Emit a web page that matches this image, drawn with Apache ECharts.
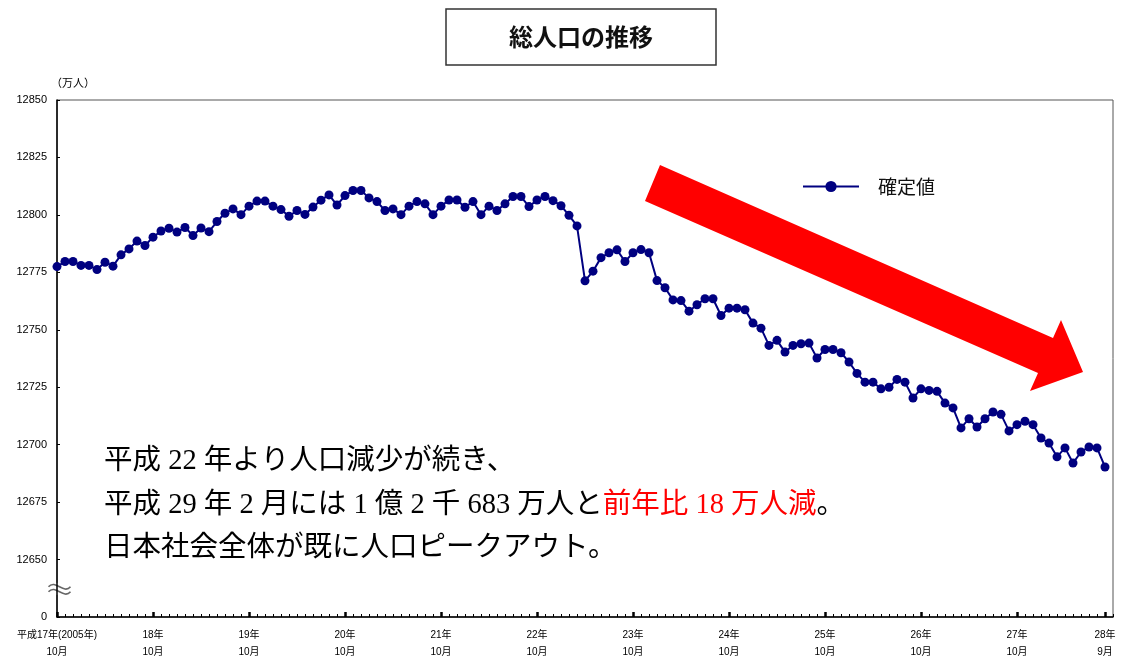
<!DOCTYPE html>
<html>
<head>
<meta charset="utf-8">
<script src="https://cdn.jsdelivr.net/npm/echarts@6/dist/echarts.min.js"></script>
<style>
  html, body { margin: 0; padding: 0; background: #fff; }
  #chart { width: 1121px; height: 661px; }
</style>
</head>
<body>
<div id="chart"></div>
<script>
// 総人口（確定値）月次、平成17年10月〜平成28年9月（万人）
const population = [
  12777.5, 12779.7, 12779.7, 12778.0, 12778.0, 12776.2, 12779.4, 12777.7, 12782.6, 12785.2,
  12788.6, 12786.7, 12790.3, 12793.0, 12794.2, 12792.5, 12794.5, 12791.0, 12794.3, 12792.7,
  12797.1, 12800.7, 12802.6, 12800.1, 12803.8, 12806.0, 12806.0, 12803.8, 12802.3, 12799.4,
  12801.9, 12800.2, 12803.4, 12806.4, 12808.7, 12804.3, 12808.4, 12810.6, 12810.6, 12807.4,
  12805.8, 12801.9, 12802.6, 12800.1, 12803.8, 12805.8, 12804.8, 12800.1, 12803.8, 12806.5,
  12806.5, 12803.3, 12805.8, 12800.1, 12803.8, 12801.9, 12804.8, 12808.0, 12808.0, 12803.6,
  12806.5, 12808.0, 12806.2, 12804.0, 12799.8, 12795.2, 12771.3, 12775.5, 12781.4, 12783.5,
  12784.8, 12779.7, 12783.5, 12784.9, 12783.5, 12771.4, 12768.3, 12763.0, 12762.7, 12758.1,
  12760.9, 12763.5, 12763.5, 12756.2, 12759.4, 12759.4, 12758.7, 12752.9, 12750.7, 12743.2,
  12745.4, 12740.3, 12743.2, 12743.9, 12744.2, 12737.7, 12741.4, 12741.4, 12740.0, 12736.0,
  12731.0, 12727.2, 12727.2, 12724.3, 12725.0, 12728.4, 12727.2, 12720.3, 12724.3, 12723.6,
  12723.2, 12718.1, 12716.0, 12707.3, 12711.3, 12707.7, 12711.3, 12714.2, 12713.2, 12706.0,
  12708.7, 12710.2, 12708.7, 12702.9, 12700.7, 12694.7, 12698.6, 12692.0, 12696.8, 12699.0,
  12698.6, 12690.3
];

// 横軸の目盛（月の通し番号）とラベル
const tickMonths = [0, 12, 24, 36, 48, 60, 72, 84, 96, 108, 120, 131];
const tickLabels = [
  '平成17年(2005年)\n10月', '18年\n10月', '19年\n10月', '20年\n10月', '21年\n10月',
  '22年\n10月', '23年\n10月', '24年\n10月', '25年\n10月', '26年\n10月',
  '27年\n10月', '28年\n9月'
];

// 縦軸（下端は省略記号付きの「0」）
const yMin = 12625, yMax = 12850, yStep = 25;
const seriesName = '確定値';
const titleText = '総人口の推移';
const unitText = '（万人）';
const noteLines = [
  '平成 22 年より人口減少が続き、',
  ['平成 29 年 2 月には 1 億 2 千 683 万人と', '前年比 18 万人減', '。'],
  '日本社会全体が既に人口ピークアウト。'
];

const monthCount = 132;
const allMonths = [];
for (let m = 0; m <= monthCount; m++) allMonths.push(m);
const seriesData = population.map((v, i) => [i, v]);

const chart = echarts.init(document.getElementById('chart'));
const baseFont = "'Liberation Sans', Arial, 'Noto Sans CJK JP', sans-serif";
const noteFont = "'Liberation Serif', 'Noto Sans CJK JP', serif";
const noteSize = 28.5;

// 省略記号の波線（S字の3次ベジェ曲線）
function wave(y) {
  return {
    type: 'bezierCurve',
    shape: { x1: 2, y1: y, cpx1: 9, cpy1: y - 8, cpx2: 17, cpy2: y + 8, x2: 24, y2: y },
    style: { fill: 'none', stroke: '#666', lineWidth: 1.6 }
  };
}

chart.setOption({
  animation: false,
  backgroundColor: '#fff',
  title: {
    text: titleText,
    left: 446, top: 9,
    padding: [16, 63],
    borderColor: '#333', borderWidth: 1.5,
    textStyle: { fontFamily: "'Noto Sans CJK JP', sans-serif", fontSize: 24, fontWeight: 'bold', color: '#111' }
  },
  legend: {
    left: 802, top: 177, padding: 0,
    itemWidth: 56, itemHeight: 14,
    data: [seriesName],
    textStyle: { fontFamily: "'Noto Sans CJK JP', sans-serif", fontSize: 19, color: '#111', padding: [0, 0, 0, 14] }
  },
  grid: {
    left: 57, right: 8, top: 100, bottom: 42,
    show: true, borderColor: '#555', borderWidth: 1, backgroundColor: 'transparent'
  },
  xAxis: [
    {
      type: 'value', min: 0, max: monthCount, interval: 1,
      axisLine: { show: true, onZero: false, lineStyle: { color: '#000', width: 1.5 } },
      axisTick: { show: true, inside: true, length: 3, customValues: allMonths, lineStyle: { color: '#000', width: 1 } },
      axisLabel: {
        customValues: tickMonths,
        formatter: v => tickLabels[tickMonths.indexOf(v)] || '',
        fontFamily: baseFont, fontSize: 10, color: '#000', lineHeight: 17, margin: 10
      },
      splitLine: { show: false }
    },
    {
      type: 'value', min: 0, max: monthCount,
      position: 'bottom',
      axisLine: { show: false },
      axisTick: { show: true, inside: true, length: 5, customValues: tickMonths, lineStyle: { color: '#000', width: 2.5 } },
      axisLabel: { show: false },
      splitLine: { show: false }
    }
  ],
  yAxis: {
    type: 'value', min: yMin, max: yMax, interval: yStep,
    name: unitText,
    nameLocation: 'end', nameGap: 12,
    nameTextStyle: { fontFamily: "'Noto Sans CJK JP', sans-serif", fontSize: 11, color: '#000', align: 'left', padding: [0, 0, 0, -6] },
    axisLine: { show: true, lineStyle: { color: '#000', width: 1.5 } },
    axisTick: { show: true, inside: true, length: 3, lineStyle: { color: '#000' } },
    axisLabel: {
      formatter: v => (v === yMin ? '0' : String(v)),
      fontFamily: baseFont, fontSize: 11, color: '#000', margin: 10
    },
    splitLine: { show: false }
  },
  series: [{
    name: seriesName,
    type: 'line',
    xAxisIndex: 0,
    data: seriesData,
    symbol: 'circle', symbolSize: 9,
    lineStyle: { color: '#000080', width: 2 },
    itemStyle: { color: '#000080' },
    z: 3
  }],
  graphic: [
    {
      type: 'group', left: 46, top: 582, z: 10,
      children: [
        { type: 'rect', shape: { x: 2, y: 2, width: 22, height: 12 }, style: { fill: '#fff' } },
        wave(6),
        wave(11)
      ]
    },
    // 減少傾向を示す赤い矢印
    {
      type: 'polygon', z: 5,
      shape: { points: [[660, 165], [1053, 338], [1061, 320], [1083, 372], [1030, 391], [1038, 373], [645, 201]] },
      style: { fill: '#ff0000' }
    },
    // 注記
    {
      type: 'text', left: 104, top: 447, z: 20,
      style: { text: noteLines[0], font: noteSize + "px " + noteFont, fill: '#000' }
    },
    {
      type: 'text', left: 104, top: 491, z: 20,
      style: {
        text: '{a|' + noteLines[1][0] + '}{r|' + noteLines[1][1] + '}{a|' + noteLines[1][2] + '}',
        rich: {
          a: { fontFamily: noteFont, fontSize: noteSize, fill: '#000' },
          r: { fontFamily: noteFont, fontSize: noteSize, fill: '#ff0000' }
        }
      }
    },
    {
      type: 'text', left: 104, top: 534, z: 20,
      style: { text: noteLines[2], font: noteSize + "px " + noteFont, fill: '#000' }
    }
  ]
});
</script>
</body>
</html>
